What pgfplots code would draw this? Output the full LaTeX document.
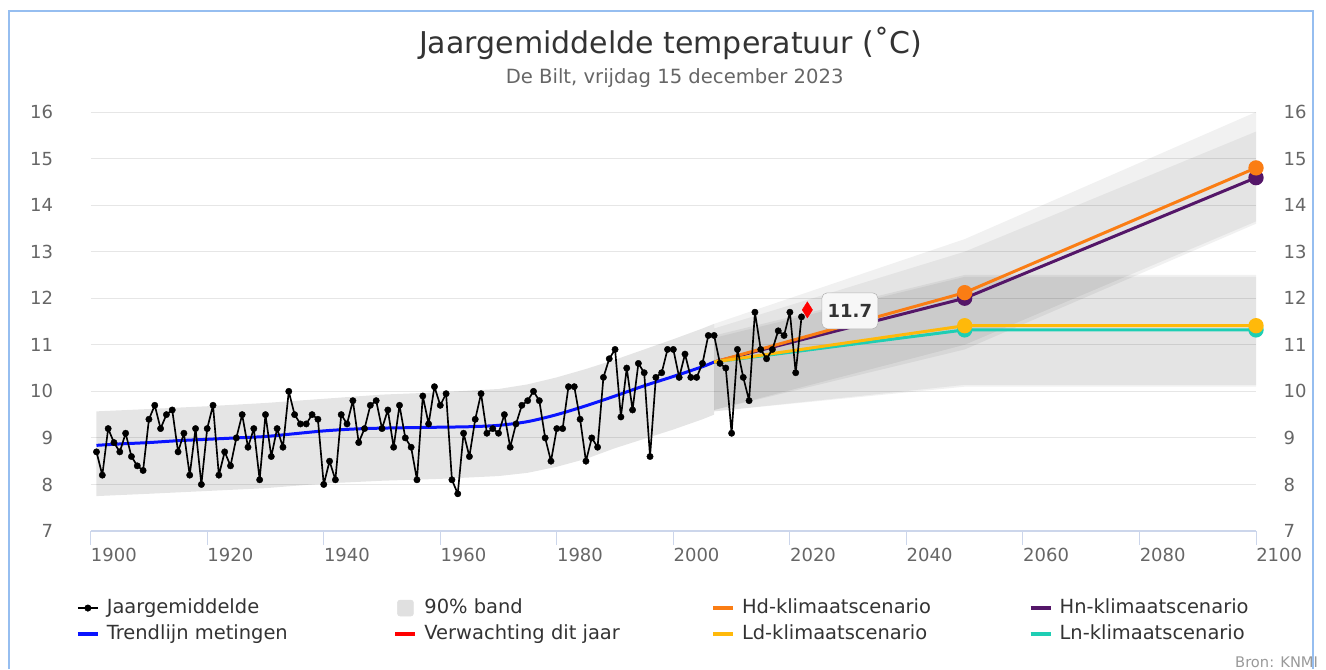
\documentclass[border=0pt]{standalone}
\usepackage{fontspec}
\setmainfont{DejaVu Sans}
\usepackage{pgfplots}
\usepackage{pgfplotstable}
\pgfplotsset{compat=1.18}

\definecolor{hdc}{RGB}{250,125,20}
\definecolor{hnc}{RGB}{84,22,104}
\definecolor{ldc}{RGB}{255,185,10}
\definecolor{lnc}{RGB}{30,206,180}
\definecolor{gridc}{RGB}{230,230,230}
\definecolor{axc}{RGB}{204,214,235}
\definecolor{txtc}{RGB}{102,102,102}
\definecolor{ttlc}{RGB}{51,51,51}
\definecolor{bordc}{RGB}{150,190,240}
\definecolor{legband}{RGB}{224,224,224}
\definecolor{trendc}{RGB}{10,20,255}

\newcommand{\tickfont}{\fontsize{13.5}{16}\selectfont}
\newcommand{\legfont}{\fontsize{14.6}{17}\selectfont}

\pgfplotstableread{
year temp
1901 8.7
1902 8.2
1903 9.2
1904 8.9
1905 8.7
1906 9.1
1907 8.6
1908 8.4
1909 8.3
1910 9.4
1911 9.7
1912 9.2
1913 9.5
1914 9.6
1915 8.7
1916 9.1
1917 8.2
1918 9.2
1919 8.0
1920 9.2
1921 9.7
1922 8.2
1923 8.7
1924 8.4
1925 9.0
1926 9.5
1927 8.8
1928 9.2
1929 8.1
1930 9.5
1931 8.6
1932 9.2
1933 8.8
1934 10.0
1935 9.5
1936 9.3
1937 9.3
1938 9.5
1939 9.4
1940 8.0
1941 8.5
1942 8.1
1943 9.5
1944 9.3
1945 9.8
1946 8.9
1947 9.2
1948 9.7
1949 9.8
1950 9.2
1951 9.6
1952 8.8
1953 9.7
1954 9.0
1955 8.8
1956 8.1
1957 9.9
1958 9.3
1959 10.1
1960 9.7
1961 9.95
1962 8.1
1963 7.8
1964 9.1
1965 8.6
1966 9.4
1967 9.95
1968 9.1
1969 9.2
1970 9.1
1971 9.5
1972 8.8
1973 9.3
1974 9.7
1975 9.8
1976 10.0
1977 9.8
1978 9.0
1979 8.5
1980 9.2
1981 9.2
1982 10.1
1983 10.1
1984 9.4
1985 8.5
1986 9.0
1987 8.8
1988 10.3
1989 10.7
1990 10.9
1991 9.45
1992 10.5
1993 9.6
1994 10.6
1995 10.4
1996 8.6
1997 10.3
1998 10.4
1999 10.9
2000 10.9
2001 10.3
2002 10.8
2003 10.3
2004 10.3
2005 10.6
2006 11.2
2007 11.2
2008 10.6
2009 10.5
2010 9.1
2011 10.9
2012 10.3
2013 9.8
2014 11.7
2015 10.9
2016 10.7
2017 10.9
2018 11.3
2019 11.2
2020 11.7
2021 10.4
2022 11.6
}\obsdata

\pgfplotstableread{
year trend
1901 8.84
1905 8.87
1910 8.90
1915 8.94
1920 8.97
1925 9.00
1930 9.03
1935 9.09
1940 9.15
1945 9.19
1950 9.21
1955 9.22
1960 9.23
1965 9.24
1970 9.27
1975 9.35
1980 9.50
1985 9.69
1990 9.90
1995 10.12
2000 10.32
2005 10.53
2007 10.63
}\trenddata

\begin{document}
\begin{tikzpicture}
\useasboundingbox (0,0) rectangle (994.5pt,501.75pt);
\draw[bordc, line width=1.5pt] (6.75pt,0pt) -- (6.75pt,493.5pt) -- (984.75pt,493.5pt) -- (984.75pt,0pt);
\node[font=\fontsize{22.5}{27}\selectfont, text=ttlc] at (503pt,469.5pt) {Jaargemiddelde temperatuur (˚C)};
\node[font=\fontsize{14.7}{17}\selectfont, text=txtc] at (506pt,443.25pt) {De Bilt, vrijdag 15 december 2023};
\node[font=\fontsize{11}{13}\selectfont, text=gray!80, anchor=base east] at (992pt,1.5pt) {Bron: KNMI};

\begin{axis}[
  at={(68pt,103.5pt)}, anchor=south west,
  width=874pt, height=314.25pt, scale only axis,
  xmin=1900, xmax=2100, ymin=7, ymax=16,
  xtick={1900,1920,...,2100}, ytick={7,8,...,16},
  /pgf/number format/.cd, 1000 sep={}, assume math mode=true, /pgfplots/.cd,
  axis x line*=bottom, axis y line*=left,
  x axis line style={axc, line width=1pt, -},
  y axis line style={draw=none},
  ytick style={draw=none},
  xtick style={axc, line width=0.75pt},
  tick align=outside, major tick length=10.5pt,
  ymajorgrids, grid style={gridc, line width=0.75pt},
  tick label style={font=\tickfont, text=txtc},
  xticklabel style={anchor=north west, inner sep=0pt, yshift=-2pt},
  yticklabel style={anchor=east, inner sep=0pt, xshift=-17.5pt},
  legend columns=4,
  legend cell align=left,
  legend style={at={(-0.0127,-0.161)}, anchor=north west, draw=none, fill=none,
    font=\legfont, inner sep=0pt, row sep=5.5pt,
    nodes={inner sep=0pt, text=ttlc, text height=11pt, text depth=3pt}},
]
% observation 90% band
\addplot[fill=black, fill opacity=0.1, draw=none, forget plot] coordinates {
 (1901,9.57) (1910,9.62) (1920,9.68) (1930,9.75) (1940,9.84) (1950,9.93) (1960,9.98)
 (1970,10.05) (1975,10.15) (1980,10.30) (1985,10.48) (1990,10.68) (1995,10.90)
 (2000,11.12) (2005,11.35) (2007,11.45)
 (2007,9.50) (2005,9.40) (2000,9.18)
 (1995,8.98) (1990,8.78) (1985,8.55) (1980,8.38) (1975,8.25) (1970,8.18)
 (1960,8.12) (1950,8.08) (1940,8.02) (1930,7.92) (1920,7.86) (1910,7.80) (1901,7.75)
} -- cycle;
% scenario bands
\addplot[fill=black, fill opacity=0.055, draw=none, forget plot] coordinates {
 (2007,11.45) (2050,13.27) (2100,16.00) (2100,13.65) (2050,11.00) (2007,9.60)} -- cycle;
\addplot[fill=black, fill opacity=0.055, draw=none, forget plot] coordinates {
 (2007,11.35) (2050,13.00) (2100,15.58) (2100,13.60) (2050,10.90) (2007,9.60)} -- cycle;
\addplot[fill=black, fill opacity=0.055, draw=none, forget plot] coordinates {
 (2007,11.20) (2050,12.50) (2100,12.50) (2100,10.14) (2050,10.14) (2007,9.57)} -- cycle;
\addplot[fill=black, fill opacity=0.055, draw=none, forget plot] coordinates {
 (2007,11.15) (2050,12.46) (2100,12.46) (2100,10.10) (2050,10.10) (2007,9.57)} -- cycle;
% trend
\addplot[trendc, line width=2.25pt, smooth, forget plot] table[x=year, y=trend] {\trenddata};
% scenario lines
\addplot[hnc, line width=2.25pt, mark=*, mark indices={2,3}, mark size=4.6pt, forget plot]
 coordinates {(2007,10.63) (2050,12.00) (2100,14.59)};
\addplot[hdc, line width=2.25pt, mark=*, mark indices={2,3}, mark size=4.6pt, forget plot]
 coordinates {(2007,10.63) (2050,12.12) (2100,14.80)};
\addplot[lnc, line width=2.25pt, mark=*, mark indices={2,3}, mark size=4.6pt, forget plot]
 coordinates {(2007,10.63) (2050,11.32) (2100,11.32)};
\addplot[ldc, line width=2.25pt, mark=*, mark indices={2,3}, mark size=4.6pt, forget plot]
 coordinates {(2007,10.63) (2050,11.41) (2100,11.41)};
% observations
\addplot[black, line width=1.25pt, line join=round, mark=*, mark size=2.4pt, mark options={line width=0.3pt}, forget plot]
 table[x=year, y=temp] {\obsdata};
% forecast this year
\addplot[red, only marks, mark=diamond*, mark size=6pt, mark options={xscale=0.85}, forget plot]
 coordinates {(2023,11.75)};
\node[draw=gray!60, fill=black!3, rounded corners=4pt, font=\bfseries\fontsize{13.5}{16}\selectfont,
  text=ttlc, minimum width=42pt, minimum height=27pt, inner sep=0pt] at (axis cs:2030.3,11.73) {11.7};

% legend
\addlegendimage{legend image code/.code={\draw[black, line width=1.2pt] (0pt,0pt) -- (15pt,0pt); \fill[black] (7.5pt,0pt) circle (2.4pt);}}
\addlegendentry{\makebox[220.6pt][l]{\hspace{5.4pt}Jaargemiddelde}}
\addlegendimage{legend image code/.code={\fill[legband, rounded corners=2pt] (1.5pt,-6pt) rectangle (13.5pt,6pt);}}
\addlegendentry{\makebox[220.6pt][l]{\hspace{5.4pt}90\% band}}
\addlegendimage{legend image code/.code={\draw[hdc, line width=2.6pt] (0pt,0pt) -- (15pt,0pt);}}
\addlegendentry{\makebox[220.6pt][l]{\hspace{5.4pt}Hd-klimaatscenario}}
\addlegendimage{legend image code/.code={\draw[hnc, line width=2.6pt] (0pt,0pt) -- (15pt,0pt);}}
\addlegendentry{\makebox[150pt][l]{\hspace{5.4pt}Hn-klimaatscenario}}
\addlegendimage{legend image code/.code={\draw[trendc, line width=2.6pt] (0pt,0pt) -- (15pt,0pt);}}
\addlegendentry{\makebox[220.6pt][l]{\hspace{5.4pt}Trendlijn metingen}}
\addlegendimage{legend image code/.code={\draw[red, line width=2.6pt] (0pt,0pt) -- (15pt,0pt);}}
\addlegendentry{\makebox[220.6pt][l]{\hspace{5.4pt}Verwachting dit jaar}}
\addlegendimage{legend image code/.code={\draw[ldc, line width=2.6pt] (0pt,0pt) -- (15pt,0pt);}}
\addlegendentry{\makebox[220.6pt][l]{\hspace{5.4pt}Ld-klimaatscenario}}
\addlegendimage{legend image code/.code={\draw[lnc, line width=2.6pt] (0pt,0pt) -- (15pt,0pt);}}
\addlegendentry{\makebox[150pt][l]{\hspace{5.4pt}Ln-klimaatscenario}}
\end{axis}

\begin{axis}[
  at={(68pt,103.5pt)}, anchor=south west,
  width=874pt, height=314.25pt, scale only axis,
  xmin=1900, xmax=2100, ymin=7, ymax=16,
  ytick={7,8,...,16},
  /pgf/number format/.cd, assume math mode=true, /pgfplots/.cd,
  hide x axis,
  axis y line*=right,
  y axis line style={draw=none},
  ytick style={draw=none},
  tick label style={font=\tickfont, text=txtc},
  yticklabel style={anchor=west, inner sep=0pt, xshift=20.5pt},
]
\addplot[draw=none, forget plot] coordinates {(1900,7) (2100,16)};
\end{axis}
\end{tikzpicture}
\end{document}
